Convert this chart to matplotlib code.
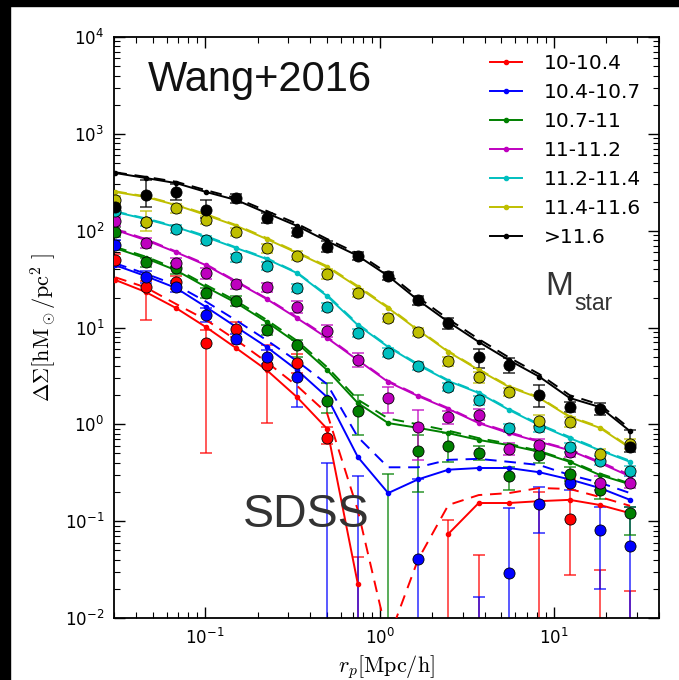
import numpy as np
import matplotlib
matplotlib.use('Agg')
import matplotlib.pyplot as plt
from matplotlib.patches import Rectangle

nan = np.nan

# radial bins r_p [Mpc/h]
rp = [0.0305, 0.0455, 0.068, 0.101, 0.151, 0.225, 0.336, 0.50, 0.75, 1.12,
      1.66, 2.48, 3.70, 5.52, 8.24, 12.3, 18.3, 27.3]

labels = ['10-10.4', '10.4-10.7', '10.7-11', '11-11.2', '11.2-11.4', '11.4-11.6', '>11.6']
colors = ['#ff0000', '#0000ff', '#008000', '#bf00bf', '#00bfbf', '#bfbf00', '#000000']

# model, solid lines
m_r = [31, 23.3, 15.9, 10.1, 6.1, 3.64, 1.91, 0.90, 0.0225, nan, nan, 0.074, 0.154, 0.154, 0.161, 0.166, 0.147, 0.121]
m_b = [44, 34, 25.6, 16.3, 10.1, 6.3, 3.64, 1.91, 0.46, 0.195, 0.27, 0.34, 0.354, 0.354, 0.32, 0.27, 0.22, 0.166]
m_g = [66, 52, 39, 26.2, 17.9, 11.4, 6.9, 3.64, 1.66, 1.03, 0.92, 0.81, 0.69, 0.61, 0.52, 0.41, 0.30, 0.24]
m_m = [102, 80, 60, 44, 29.5, 19.7, 12.5, 7.8, 4.6, 2.74, 1.96, 1.44, 1.03, 0.81, 0.66, 0.54, 0.40, 0.29]
m_c = [156, 132, 109, 86, 66, 51, 36.5, 21.1, 10.6, 6.3, 4.1, 2.8, 2.11, 1.41, 0.98, 0.72, 0.54, 0.41]
m_y = [251, 223, 184, 145, 112, 82, 59, 42, 26.2, 15.9, 9.4, 5.6, 3.64, 2.43, 1.87, 1.19, 0.92, 0.57]
m_k = [394, 350, 310, 251, 207, 152, 112, 78, 55, 34, 19.2, 11.4, 7.1, 4.6, 3.1, 1.87, 1.51, 0.85]

# model, dashed lines
d_r = [33, 26, 17.5, 12.0, 7.4, 4.4, 2.5, 1.3, 0.13, 0.0059, 0.040, 0.147, 0.186, 0.195, 0.22, 0.215, 0.178, 0.144]
d_b = [46, 36, 27.5, 18.5, 11.8, 7.4, 4.5, 2.6, 0.74, 0.36, 0.36, 0.43, 0.44, 0.41, 0.38, 0.30, 0.25, 0.195]
d_g = [68, 54, 40.5, 27.5, 18.8, 12.0, 7.3, 3.9, 1.8, 1.15, 1.0, 0.86, 0.72, 0.63, 0.53, 0.42, 0.31, 0.245]
d_m = [104, 82, 61, 45, 30, 20, 12.8, 8.0, 4.7, 2.8, 2.0, 1.47, 1.05, 0.83, 0.67, 0.55, 0.41, 0.30]
d_c = [158, 134, 111, 88, 67, 52, 37, 21.6, 10.9, 6.4, 4.2, 2.85, 2.15, 1.44, 1.0, 0.74, 0.55, 0.42]
d_y = [255, 226, 187, 148, 114, 84, 60, 43, 26.8, 16.3, 9.6, 5.7, 3.7, 2.48, 1.9, 1.21, 0.94, 0.58]
d_k = [400, 360, 320, 262, 216, 160, 118, 82, 58, 36, 20.5, 12.2, 7.6, 4.9, 3.3, 2.0, 1.6, 0.9]

# SDSS measurements (value, lower and upper end of error bar); 1e-4 = below the plot
v_r = [50, 26.2, 29.5, 6.9, 9.7, 4.1, 4.3, 0.72, 1e-4, nan, nan, 1e-4, 1e-4, nan, 1e-4, 0.105, 1e-4, 1e-4]
lo_r = [42, 11.9, 25, 0.51, 8.0, 1.03, 3.4, 0.62, 1e-4, nan, nan, 1e-4, 1e-4, nan, 1e-4, 0.028, 1e-4, 1e-4]
hi_r = [58, 30, 34, 9.4, 11.5, 6.6, 5.3, 0.94, 0.043, nan, nan, 0.103, 0.045, nan, 0.20, 0.27, 0.031, 0.019]

v_b = [71, 33, 26.2, 13.5, 7.6, 4.95, 3.08, 1e-4, 1e-4, nan, 0.041, nan, 1e-4, 0.029, 0.150, 0.25, 0.081, 0.055]
lo_b = [63, 29, 23, 11.5, 6.7, 4.2, 1.51, 1e-4, 1e-4, nan, 1e-4, nan, 1e-4, 1e-4, 0.0755, 0.21, 0.020, 1e-4]
hi_b = [80, 38, 30, 16, 8.6, 5.8, 4.0, 0.40, 0.29, nan, 0.27, nan, 0.0165, 0.137, 0.225, 0.30, 0.14, 0.14]

v_g = [97, 47, 41, 22.7, 18.8, 9.4, 6.6, 1.74, 1.37, 1e-4, 0.53, 0.60, 0.51, 0.29, 0.48, 0.31, 0.21, 0.12]
lo_g = [87, 42, 36, 20, 16.5, 8.3, 5.0, 1.31, 0.78, 1e-4, 0.2, 0.41, 0.43, 0.21, 0.40, 0.26, 0.17, 0.072]
hi_g = [108, 52, 46, 25.5, 21, 10.6, 7.5, 2.67, 2.0, 0.31, 0.78, 0.81, 0.6, 0.36, 0.56, 0.36, 0.25, 0.14]

v_m = [126, 75, 46, 36.5, 28.1, 26.2, 16.3, 9.2, 4.6, 1.87, 0.94, 1.19, 1.25, 0.56, 0.61, 0.52, 0.25, 0.25]
lo_m = [113, 67, 41, 32, 25, 23.5, 14, 8.0, 3.9, 1.3, 0.43, 1.0, 1.1, 0.48, 0.53, 0.46, 0.21, 0.22]
hi_m = [140, 84, 52, 41, 31, 29, 19, 10.5, 5.4, 2.43, 1.41, 1.38, 1.45, 0.64, 0.70, 0.59, 0.29, 0.29]

v_c = [160, 123, 104, 80, 53, 43, 25.6, 16.3, 8.8, 5.5, 4.0, 2.43, 1.78, 0.92, 0.94, 0.58, 0.42, 0.33]
lo_c = [145, 111, 94, 72, 48, 39, 23, 14.7, 7.9, 5.0, 3.6, 2.2, 1.6, 0.83, 0.84, 0.52, 0.38, 0.29]
hi_c = [176, 135, 114, 88, 58, 47, 28, 18, 9.7, 6.1, 4.4, 2.7, 1.97, 1.02, 1.05, 0.64, 0.47, 0.37]

v_y = [207, 123, 171, 129, 97, 66, 55, 36, 22.7, 12.5, 9.0, 4.5, 3.08, 2.16, 1.08, 1.06, 0.49, 0.63]
lo_y = [188, 100, 154, 116, 88, 59, 50, 32, 20.5, 11.3, 8.1, 4.0, 2.7, 1.95, 0.95, 0.94, 0.43, 0.55]
hi_y = [228, 160, 190, 142, 107, 73, 61, 40, 25, 13.8, 9.9, 5.0, 3.5, 2.4, 1.25, 1.2, 0.56, 0.71]

v_k = [175, 233, 251, 163, 217, 135, 97, 68, 55, 34, 19.2, 11.1, 4.95, 4.1, 2.0, 1.51, 1.44, 0.58]
lo_k = [150, 176, 207, 135, 195, 120, 88, 60, 50, 31, 17, 9.6, 3.8, 3.4, 1.5, 1.35, 1.25, 0.52]
hi_k = [205, 330, 300, 207, 240, 152, 107, 78, 60, 37, 21, 12.5, 6.0, 4.8, 2.55, 1.7, 1.65, 0.87]

models = [m_r, m_b, m_g, m_m, m_c, m_y, m_k]
dashed = [d_r, d_b, d_g, d_m, d_c, d_y, d_k]
vals = [v_r, v_b, v_g, v_m, v_c, v_y, v_k]
lows = [lo_r, lo_b, lo_g, lo_m, lo_c, lo_y, lo_k]
highs = [hi_r, hi_b, hi_g, hi_m, hi_c, hi_y, hi_k]

fig = plt.figure(figsize=(6.79, 6.80), dpi=100)
ax = fig.add_axes([114 / 679, 62 / 680, 545 / 679, 581 / 680])

# black frame strips of the screenshot
fig.patches.append(Rectangle((0, 1 - 6 / 680), 1, 6 / 680, transform=fig.transFigure,
                             color='black', zorder=10))
fig.patches.append(Rectangle((0, 0), 10 / 679, 1, transform=fig.transFigure,
                             color='black', zorder=10))

x = np.array(rp)
for i in range(7):
    c = colors[i]
    v = np.array(vals[i])
    lo = np.array(lows[i])
    hi = np.array(highs[i])
    yerr = [v - lo, hi - v]
    eb = ax.errorbar(x, v, yerr=yerr, fmt='none', ecolor=c, elinewidth=1.3,
                     capsize=4, capthick=1.3, zorder=2)
    for art in eb[1] + eb[2]:
        art.set_alpha(0.7)
    ax.plot(x, models[i], '-', color=c, lw=1.4, marker='.', ms=6, label=labels[i], zorder=3)
    ax.plot(x, dashed[i], '--', color=c, lw=1.4, dashes=(6, 4), zorder=3)
    ax.plot(x, v, 'o', color=c, ms=8, mec='k', mew=0.6, zorder=4)

ax.set_xscale('log')
ax.set_yscale('log')
ax.set_xlim(0.03, 40)
ax.set_ylim(1e-2, 1e4)

ax.tick_params(which='both', direction='in', top=True, right=True, labelsize=12, pad=7)
ax.tick_params(which='major', length=8, width=1)
ax.tick_params(which='minor', length=4, width=0.8)
for s in ax.spines.values():
    s.set_linewidth(1.3)

ax.set_xlabel(r'$r_p[\mathrm{Mpc/h}]$', fontsize=16, math_fontfamily='cm', labelpad=4)
ax.set_ylabel(r'$\Delta\Sigma[\mathrm{hM_\odot/pc^2\ }]$', fontsize=16, math_fontfamily='cm')
ax.yaxis.set_label_coords(-0.1, 0.5)

ax.legend(loc='upper left', bbox_to_anchor=(0.675, 0.985), frameon=False, fontsize=14.5,
          handlelength=1.6, handletextpad=1.1, borderaxespad=0, labelspacing=0.5)

ax.text(0.062, 0.926, 'Wang+2016', transform=ax.transAxes, fontsize=30,
        family='Liberation Sans', color='#111111', va='center', ha='left')
ax.text(0.237, 0.177, 'SDSS', transform=ax.transAxes, fontsize=33.5,
        family='Liberation Sans', color='#333333', va='center', ha='left')
ax.text(0.791, 0.556, 'M', transform=ax.transAxes, fontsize=24,
        family='Liberation Sans', color='#333333', va='baseline', ha='left')
ax.text(0.845, 0.530, 'star', transform=ax.transAxes, fontsize=16.5,
        family='Liberation Sans', color='#333333', va='baseline', ha='left')

fig.savefig('out.png', dpi=100, facecolor='white')
